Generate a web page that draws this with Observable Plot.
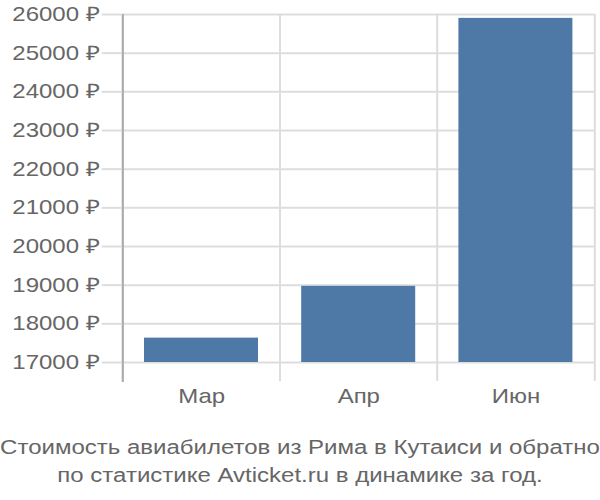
<!DOCTYPE html>
<html>
<head>
<meta charset="utf-8">
<script src="https://cdn.jsdelivr.net/npm/d3@7"></script>
<script src="https://cdn.jsdelivr.net/npm/@observablehq/plot@0.6"></script>
<style>
  html, body { margin: 0; padding: 0; background: #fff; overflow: hidden; }
  body { width: 600px; font-family: "Liberation Sans", Arial, sans-serif; }
  #chart svg { display: block; width: 600px !important; height: 420px !important; max-width: none !important; }
  #title { width: 500px; text-align: center; font-size: 20px; color: #666; line-height: 28px; margin-top: 13px;
           transform: scaleX(1.2); transform-origin: 0 0; white-space: nowrap; }
</style>
</head>
<body>
<div id="chart"></div>
<div id="title">Стоимость авиабилетов из Рима в Кутаиси и обратно<br>по статистике Avticket.ru в динамике за год.</div>
<script>
const months = ["Мар", "Апр", "Июн"];
const prices = [17630, 18970, 25900];
const yTicks = [17000, 18000, 19000, 20000, 21000, 22000, 23000, 24000, 25000, 26000];
const yMin = 17000;
const yMax = 26000;

const data = months.map((m, i) => ({month: m, price: prices[i]}));

// Drawn at 500px wide and stretched to 600px, as the reference is.
const width = 500, marginLeft = 101.7, marginRight = 4.3;
const step = (width - marginLeft - marginRight) / months.length;
const grid = {stroke: "#ddd", strokeOpacity: 1};

const chart = Plot.plot({
  width: width,
  height: 420,
  marginLeft: marginLeft,
  marginRight: marginRight,
  marginTop: 14,
  marginBottom: 58,
  style: {fontFamily: "Liberation Sans, Arial, sans-serif", fontSize: "20px", color: "#666", background: "#fff"},
  x: {domain: months, paddingInner: 0.277, paddingOuter: 0.1385, label: null},
  y: {domain: [yMin, yMax], label: null},
  marks: [
    Plot.ruleY(yTicks, {...grid, strokeWidth: 2}),
    Plot.ruleX(months, {x: d => d, dx: -step / 2, y1: yMax, y2: yMin, insetBottom: -19, ...grid, strokeWidth: 1.7}),
    Plot.ruleX([months[months.length - 1]], {x: d => d, dx: step / 2, y1: yMax, y2: yMin, insetBottom: -19, ...grid, strokeWidth: 1.7}),
    Plot.ruleX([months[0]], {x: d => d, dx: -step / 2, y1: yMax, y2: yMin, insetBottom: -20, stroke: "#aaa", strokeOpacity: 1, strokeWidth: 1.7}),
    Plot.barY(data, {x: "month", y1: yMin, y2: "price", fill: "#4e78a6"}),
    Plot.axisY({ticks: yTicks, tickFormat: d => d + " ₽", tickSize: 17, tickPadding: 2, stroke: "#ddd", strokeOpacity: 1, strokeWidth: 2, fill: "#666", fontSize: 20}),
    Plot.axisX({tickSize: 0, tickPadding: 26, fill: "#666", fontSize: 20})
  ]
});
chart.setAttribute("preserveAspectRatio", "none");
document.getElementById("chart").appendChild(chart);
</script>
</body>
</html>
